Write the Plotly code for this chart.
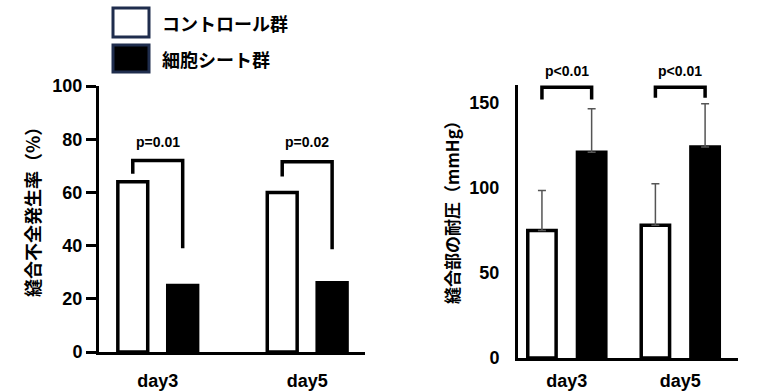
import plotly.graph_objects as go

# ---------------- data ----------------
categories = ["day3", "day5"]
series_names = ["コントロール群", "細胞シート群"]

# left: leakage rate (%)
leak_control = [64, 60]
leak_sheet = [25, 26]
leak_pvals = ["p=0.01", "p=0.02"]
leak_ticks = [0, 20, 40, 60, 80, 100]
leak_range = [0, 100]
# bracket y values: [left leg bottom, top, right leg bottom]
leak_brackets = [[67, 72, 39], [66, 71.5, 38.6]]
leak_p_y = 79

# right: burst pressure (mmHg)
press_control = [75, 78]
press_sheet = [121, 124]
press_control_sd = [23.5, 24.5]
press_sheet_sd = [25.5, 25.5]
press_pvals = ["p<0.01", "p<0.01"]
press_ticks = [0, 50, 100, 150]
press_range = [0, 160.5]
press_brackets = [[152, 159.2, 152], [153, 159.2, 153]]
press_p_y = 169

left_title = "縫合不全発生率（%）"
right_title = "縫合部の耐圧（mmHg）"

# ---------------- helpers ----------------
W, H = 759, 392
def px(x):
    return x / W
def py(y):
    return 1 - y / H

LAT = "Liberation Sans, Arial, sans-serif"
CJK = "Noto Sans CJK JP, sans-serif"
idx = list(range(len(categories)))

fig = go.Figure()

# ---- left panel bars ----
LW = 3.5
fig.add_bar(x=idx, y=leak_control, width=0.2, offset=-0.267, name=series_names[0],
            marker=dict(color="white", line=dict(color="black", width=LW)),
            xaxis="x", yaxis="y", showlegend=False)
fig.add_bar(x=idx, y=leak_sheet, width=0.2, offset=0.067, name=series_names[1],
            marker=dict(color="black", line=dict(color="black", width=LW)),
            xaxis="x", yaxis="y", showlegend=False)

# ---- right panel bars ----
fig.add_bar(x=idx, y=press_control, width=0.25, offset=-0.344, name=series_names[0],
            marker=dict(color="white", line=dict(color="black", width=LW)),
            error_y=dict(type="data", array=press_control_sd, arrayminus=[0] * len(idx),
                         symmetric=False, color="#555555", thickness=1.5, width=4),
            xaxis="x2", yaxis="y2", showlegend=False)
fig.add_bar(x=idx, y=press_sheet, width=0.25, offset=0.094, name=series_names[1],
            marker=dict(color="black", line=dict(color="black", width=LW)),
            error_y=dict(type="data", array=press_sheet_sd, arrayminus=[0] * len(idx),
                         symmetric=False, color="#555555", thickness=1.5, width=4),
            xaxis="x2", yaxis="y2", showlegend=False)

# ---- brackets ----
def add_brackets(brackets, half, xa, ya):
    for i, (lb, top, rb) in zip(idx, brackets):
        fig.add_scatter(x=[i - half, i - half, i + half, i + half],
                        y=[lb, top, top, rb], mode="lines",
                        line=dict(color="black", width=3.5),
                        cliponaxis=False, hoverinfo="skip",
                        xaxis=xa, yaxis=ya, showlegend=False)

add_brackets(leak_brackets, 0.167, "x", "y")
add_brackets(press_brackets, 0.219, "x2", "y2")

pfont = dict(family=LAT, size=14, color="black", weight="bold")
annotations = []
for i, t in zip(idx, leak_pvals):
    annotations.append(dict(x=i, y=leak_p_y / leak_range[1], xref="x", yref="y domain",
                            yanchor="middle", xanchor="center",
                            text=t, showarrow=False, font=pfont))
for i, t in zip(idx, press_pvals):
    annotations.append(dict(x=i, y=press_p_y / press_range[1], xref="x2", yref="y2 domain",
                            yanchor="middle", xanchor="center",
                            text=t, showarrow=False, font=pfont))

# axis titles
annotations.append(dict(x=px(32), y=py(208), xref="paper", yref="paper", text=left_title,
                        textangle=-90, showarrow=False, xanchor="center", yanchor="middle",
                        font=dict(family=CJK, size=18, color="black", weight="bold")))
annotations.append(dict(x=px(451), y=py(208), xref="paper", yref="paper", text=right_title,
                        textangle=-90, showarrow=False, xanchor="center", yanchor="middle",
                        font=dict(family=CJK, size=17, color="black", weight="bold")))

# custom legend
shapes = []
legend_boxes = [(8, 37, "white"), (45, 72, "black")]
for (y0, y1, fillc), name in zip(legend_boxes, series_names):
    shapes.append(dict(type="rect", xref="paper", yref="paper",
                       x0=px(113), x1=px(149), y0=py(y1), y1=py(y0),
                       line=dict(color="#1f2d4d", width=3), fillcolor=fillc))
    annotations.append(dict(x=px(160), y=py((y0 + y1) / 2), xref="paper", yref="paper",
                            text=name, showarrow=False, xanchor="left", yanchor="middle",
                            font=dict(family=CJK, size=18, color="black", weight="bold")))

tickfont = dict(family=LAT, size=18, color="black", weight="bold")
common = dict(showline=True, linewidth=3, linecolor="black", showgrid=False,
              zeroline=False, fixedrange=True, automargin=False)

fig.update_layout(
    template="none",
    width=W, height=H, autosize=False,
    margin=dict(l=0, r=0, t=0, b=0, pad=0),
    paper_bgcolor="white", plot_bgcolor="white",
    barmode="overlay",
    showlegend=False,
    annotations=annotations,
    shapes=shapes,
    xaxis=dict(domain=[px(99), px(365)], range=[-0.393, 1.387], anchor="y",
               tickvals=idx, ticktext=categories, tickfont=tickfont,
               ticks="outside", ticklen=10, tickcolor="rgba(0,0,0,0)", **common),
    yaxis=dict(domain=[py(352), py(86)], range=leak_range, anchor="x",
               tickvals=leak_ticks, tickfont=tickfont,
               ticks="outside", ticklen=10, tickwidth=3, tickcolor="black", **common),
    xaxis2=dict(domain=[px(518), px(738)], range=[-0.43, 1.509], anchor="y2",
                tickvals=idx, ticktext=categories, tickfont=tickfont,
                ticks="outside", ticklen=4, tickcolor="rgba(0,0,0,0)", **common),
    yaxis2=dict(domain=[py(358), py(85)], range=press_range, anchor="x2",
                tickvals=press_ticks, tickfont=tickfont,
                ticks="outside", ticklen=12, tickcolor="rgba(0,0,0,0)", **common),
)

fig.write_html("out.html", config={"displayModeBar": False},
               post_script="document.body.style.margin='0';document.body.style.overflow='hidden';")
